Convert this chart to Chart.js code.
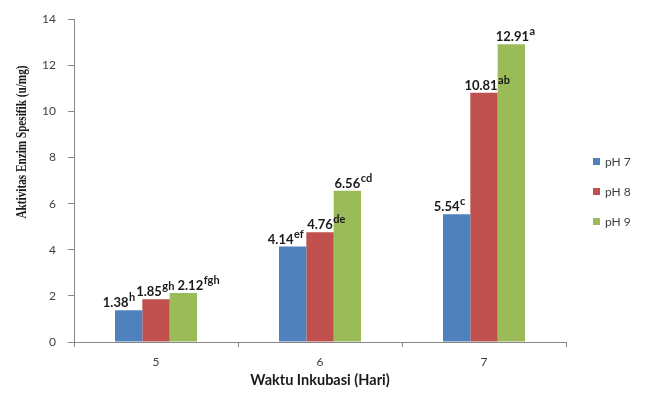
<!DOCTYPE html>
<html>
<head>
<meta charset="utf-8">
<script src="https://cdn.jsdelivr.net/npm/chart.js@4/dist/chart.umd.min.js"></script>
<style>
  html, body { margin: 0; padding: 0; background: #ffffff; }
  #wrap { width: 651px; height: 396px; }
</style>
</head>
<body>
<div id="wrap"><canvas id="c" width="651" height="396"></canvas></div>
<script>
// Incubation days (categories)
const days = ['5', '6', '7'];
// Series names
const seriesNames = ['pH 7', 'pH 8', 'pH 9'];
// Specific enzyme activity (u/mg) per pH
const ph7 = [1.38, 4.14, 5.54];
const ph8 = [1.85, 4.76, 10.81];
const ph9 = [2.12, 6.56, 12.91];
// Significance letters shown as superscripts
const ph7Letters = ['h', 'ef', 'c'];
const ph8Letters = ['gh', 'de', 'ab'];
const ph9Letters = ['fgh', 'cd', 'a'];
// Y axis range and step
const yMin = 0;
const yMax = 14;
const yStep = 2;

const colors = ['#4F81BD', '#C0504D', '#9BBB59'];
const letters = [ph7Letters, ph8Letters, ph9Letters];
// Horizontal nudges (px) so neighbouring labels do not collide
const labelNudge = [[-13, -12, -10], [-7, 0, -3], [7, 0, 1]];

// Value labels with superscript letters above each bar
const valueLabels = {
  id: 'valueLabels',
  afterDatasetsDraw(chart) {
    const ctx = chart.ctx;
    ctx.save();
    ctx.fillStyle = '#1a1a1a';
    chart.data.datasets.forEach((ds, di) => {
      const meta = chart.getDatasetMeta(di);
      meta.data.forEach((bar, i) => {
        const txt = ds.data[i].toFixed(2);
        const cx = bar.x + labelNudge[di][i];
        ctx.font = 'bold 13px Lato';
        ctx.textAlign = 'center';
        ctx.textBaseline = 'alphabetic';
        const w = ctx.measureText(txt).width;
        const baseY = bar.y - 3;
        ctx.fillText(txt, cx, baseY);
        ctx.font = 'bold 11px Lato';
        ctx.textAlign = 'left';
        ctx.fillText(letters[di][i], cx + w / 2 + 0.5, baseY - 6);
      });
    });
    ctx.restore();
  }
};

// Right-side legend and rotated y axis title
const extras = {
  id: 'extras',
  afterDraw(chart) {
    const ctx = chart.ctx;
    ctx.save();
    const lx = 593, ly0 = 162, step = 30;
    seriesNames.forEach((name, i) => {
      const y = ly0 + i * step;
      ctx.fillStyle = colors[i];
      ctx.fillRect(lx, y - 4, 7, 7);
      ctx.fillStyle = '#404040';
      ctx.font = '12px Lato';
      ctx.textAlign = 'left';
      ctx.textBaseline = 'middle';
      ctx.fillText(name, lx + 12, y);
    });
    const title = 'Aktivitas Enzim Spesifik (u/mg)';
    ctx.translate(22, 142);
    ctx.rotate(-Math.PI / 2);
    ctx.font = 'bold 14px "Liberation Serif"';
    const tw = ctx.measureText(title).width;
    ctx.scale(153 / tw, 1);
    ctx.fillStyle = '#1a1a1a';
    ctx.textAlign = 'center';
    ctx.textBaseline = 'middle';
    ctx.fillText(title, 0, 0);
    ctx.restore();
  }
};

new Chart(document.getElementById('c'), {
  type: 'bar',
  data: {
    labels: days,
    datasets: [
      { label: seriesNames[0], data: ph7, backgroundColor: colors[0] },
      { label: seriesNames[1], data: ph8, backgroundColor: colors[1] },
      { label: seriesNames[2], data: ph9, backgroundColor: colors[2] }
    ]
  },
  options: {
    responsive: false,
    animation: false,
    devicePixelRatio: 1,
    layout: { padding: { left: 0, top: 14, right: 85, bottom: 3 } },
    datasets: { bar: { categoryPercentage: 0.5, barPercentage: 1.0 } },
    plugins: {
      legend: { display: false },
      tooltip: { enabled: false }
    },
    scales: {
      x: {
        grid: { display: true, drawOnChartArea: false, tickLength: 5, color: '#868686' },
        border: { color: '#868686' },
        ticks: { color: '#404040', font: { family: 'Lato', size: 12 }, padding: 8 },
        title: { display: true, text: 'Waktu Inkubasi (Hari)', color: '#1a1a1a', font: { family: 'Lato', size: 14.5, weight: 'bold' } },
        afterFit(scale) { scale.height = 51; }
      },
      y: {
        min: yMin,
        max: yMax,
        ticks: { stepSize: yStep, color: '#404040', font: { family: 'Lato', size: 12 }, padding: 12 },
        grid: { display: true, drawOnChartArea: false, tickLength: 6, color: '#868686' },
        border: { color: '#868686' },
        afterFit(scale) { scale.width = 74; }
      }
    }
  },
  plugins: [valueLabels, extras]
});
</script>
</body>
</html>
